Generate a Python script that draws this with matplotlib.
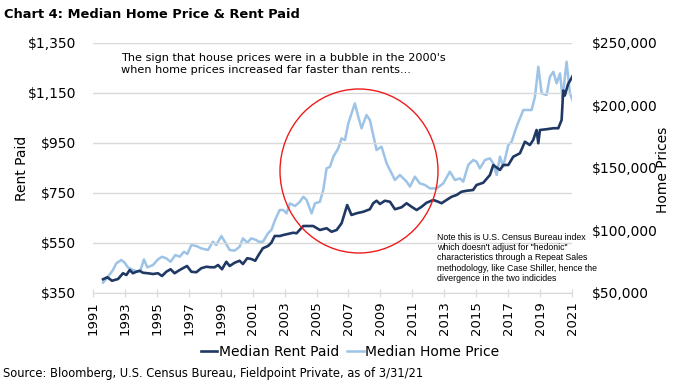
import matplotlib
matplotlib.use("Agg")
import matplotlib.pyplot as plt
from matplotlib.patches import Ellipse
from matplotlib.ticker import FuncFormatter

# ---- data ----
rent_years = [1991.63, 1991.90, 1992.19, 1992.57, 1992.88, 1993.09, 1993.30, 1993.50, 1993.71, 1993.92,
              1994.13, 1994.44, 1994.76, 1995.07, 1995.32, 1995.59, 1995.86, 1996.11, 1996.43, 1996.74,
              1996.89, 1997.16, 1997.47, 1997.78, 1998.10, 1998.37, 1998.62, 1998.83, 1999.08, 1999.35,
              1999.56, 1999.87, 2000.18, 2000.39, 2000.66, 2000.91, 2001.16, 2001.37, 2001.64, 2001.96,
              2002.17, 2002.38, 2002.71, 2002.92, 2003.54, 2003.75, 2004.17, 2004.79, 2005.21, 2005.63,
              2005.94, 2006.26, 2006.57, 2006.92, 2007.19, 2007.51, 2007.93, 2008.34, 2008.55, 2008.76,
              2008.97, 2009.28, 2009.60, 2009.91, 2010.33, 2010.64, 2010.95, 2011.27, 2011.58, 2011.89,
              2012.31, 2012.62, 2012.83, 2013.14, 2013.46, 2013.77, 2014.08, 2014.40, 2014.81, 2015.02,
              2015.44, 2015.86, 2016.07, 2016.49, 2016.69, 2017.01, 2017.32, 2017.74, 2018.05, 2018.36,
              2018.57, 2018.78, 2018.89, 2018.99, 2019.40, 2019.83, 2020.14, 2020.35, 2020.45, 2020.55,
              2020.75, 2021.14]
rent_vals = [405, 413, 399, 406, 429, 422, 442, 429, 435, 439,
             431, 429, 426, 429, 418, 435, 445, 429, 442, 453,
             458, 435, 433, 449, 455, 453, 453, 462, 445, 475,
             458, 471, 479, 466, 489, 486, 479, 502, 529, 538,
             551, 578, 578, 582, 591, 589, 618, 618, 602, 609,
             595, 602, 629, 702, 662, 669, 675, 685, 709, 719,
             706, 719, 715, 685, 693, 709, 695, 682, 695, 711,
             722, 715, 709, 722, 735, 742, 755, 759, 762, 782,
             791, 822, 862, 842, 862, 862, 895, 909, 955, 942,
             962, 1002, 949, 1002, 1005, 1009, 1009, 1042, 1160, 1140,
             1185, 1229]

home_years = [1991.63, 1991.94, 1992.25, 1992.46, 1992.77, 1992.98, 1993.19, 1993.50, 1993.82, 1993.98,
              1994.19, 1994.40, 1994.76, 1995.07, 1995.32, 1995.59, 1995.86, 1996.16, 1996.43, 1996.70,
              1996.91, 1997.16, 1997.47, 1997.78, 1998.20, 1998.51, 1998.72, 1999.04, 1999.29, 1999.56,
              1999.87, 2000.18, 2000.39, 2000.66, 2000.91, 2001.23, 2001.37, 2001.64, 2001.96, 2002.17,
              2002.42, 2002.69, 2002.92, 2003.12, 2003.33, 2003.65, 2003.96, 2004.17, 2004.38, 2004.69,
              2004.90, 2005.21, 2005.42, 2005.63, 2005.84, 2006.05, 2006.36, 2006.57, 2006.78, 2006.99,
              2007.40, 2007.61, 2007.82, 2008.13, 2008.34, 2008.76, 2009.07, 2009.39, 2009.70, 2009.91,
              2010.22, 2010.64, 2010.85, 2011.16, 2011.47, 2011.79, 2012.10, 2012.52, 2012.94, 2013.35,
              2013.67, 2013.98, 2014.19, 2014.50, 2014.81, 2015.02, 2015.23, 2015.55, 2015.86, 2016.07,
              2016.28, 2016.49, 2016.69, 2017.01, 2017.22, 2017.53, 2017.95, 2018.47, 2018.68, 2018.89,
              2019.10, 2019.41, 2019.62, 2019.83, 2020.04, 2020.25, 2020.41, 2020.66, 2020.87, 2021.14]
home_vals = [58300, 63000, 68400, 73700, 76400, 74300, 70500, 68400, 67000, 68400,
             76900, 70500, 72400, 76900, 79000, 77700, 75000, 80400, 79000, 83000,
             81200, 88400, 87600, 85700, 84400, 91000, 88400, 95600, 90300, 84400,
             83900, 87000, 93700, 90300, 93700, 92400, 91000, 91000, 97700, 100400,
             109000, 116400, 116400, 113700, 121700, 119600, 123000, 127000, 124400, 113700,
             121700, 123000, 132400, 149700, 151000, 159000, 165700, 173700, 172400, 185700,
             201700, 191100, 181700, 192400, 188400, 164400, 167100, 153700, 145700, 140400,
             144400, 139100, 135100, 143100, 137700, 136400, 133700, 133700, 137700, 147100,
             140400, 141700, 139100, 152400, 156400, 155100, 149700, 156400, 157700, 153700,
             144400, 159100, 151100, 168400, 171100, 183100, 196400, 196400, 207000, 231000,
             209700, 208400, 223000, 227000, 217700, 225700, 205700, 235000, 209700, 200400]

year_ticks = list(range(1991, 2022, 2))
rent_ticks = [350, 550, 750, 950, 1150, 1350]
home_ticks = [50000, 100000, 150000, 200000, 250000]

title = "Chart 4: Median Home Price & Rent Paid"
note_bubble = ("The sign that house prices were in a bubble in the 2000's\n"
               "when home prices increased far faster than rents...")
note_census = ("Note this is U.S. Census Bureau index\n"
               "which doesn't adjust for \"hedonic\"\n"
               "characteristics through a Repeat Sales\n"
               "methodology, like Case Shiller, hence the\n"
               "divergence in the two indicides")
source = "Source: Bloomberg, U.S. Census Bureau, Fieldpoint Private, as of 3/31/21"

DARK = "#1f3864"
LIGHT = "#9dc3e6"
GRID = "#d9d9d9"

plt.rcParams['font.family'] = ['DejaVu Sans']

W, H = 683, 382
fig = plt.figure(figsize=(W / 100, H / 100), dpi=100)
ax = fig.add_axes([93 / W, 1 - 293 / H, (572 - 93) / W, (293 - 43) / H])
ax2 = ax.twinx()

l1, = ax.plot(rent_years, rent_vals, color=DARK, lw=1.9, label="Median Rent Paid", zorder=3)
l2, = ax2.plot(home_years, home_vals, color=LIGHT, lw=1.8, label="Median Home Price", zorder=2)
ax.set_zorder(ax2.get_zorder() + 1)
ax.patch.set_visible(False)

ax.set_xlim(1991, 2021)
ax.set_ylim(350, 1350)
ax2.set_ylim(50000, 250000)
ax.set_xticks(year_ticks)
ax.set_xticklabels([str(y) for y in year_ticks], rotation=90, fontsize=9.5)
ax.set_yticks(rent_ticks)
ax.yaxis.set_major_formatter(FuncFormatter(lambda v, p: f"${v:,.0f}"))
ax2.set_yticks(home_ticks)
ax2.yaxis.set_major_formatter(FuncFormatter(lambda v, p: f"${v:,.0f}"))
ax.tick_params(axis='y', length=0, labelsize=10, pad=12)
ax2.tick_params(axis='y', length=0, labelsize=10, pad=14)
ax.tick_params(axis='x', direction='inout', length=6, color=GRID, pad=3)
ax.grid(axis='y', color=GRID, lw=1)
for a in (ax, ax2):
    for s in ('top', 'left', 'right'):
        a.spines[s].set_visible(False)
    a.spines['bottom'].set_color(GRID)
ax2.spines['bottom'].set_visible(False)

fig.text(4 / W, 1 - 14 / H, title, fontsize=9.4, fontweight='bold', va='center', ha='left')
fig.text(22 / W, 1 - 168 / H, "Rent Paid", rotation=90, fontsize=10, ha='center', va='center')
fig.text(663 / W, 1 - 170 / H, "Home Prices", rotation=90, fontsize=10, ha='center', va='center')
fig.text(121 / W, 1 - 53 / H, note_bubble, fontsize=8.1, va='top', ha='left', linespacing=1.3)
fig.text(437 / W, 1 - 233 / H, note_census, fontsize=6.35, va='top', ha='left', linespacing=1.17,
         family=['Liberation Sans', 'DejaVu Sans'])
fig.text(3 / W, 1 - 373 / H, source, fontsize=8.3, va='center', ha='left')

circ = Ellipse((359 / W, 1 - 171 / H), 158 / W, 164 / H, transform=fig.transFigure,
               fill=False, edgecolor='#ee1c1c', lw=1.0, zorder=10)
fig.patches.append(circ)

fig.legend(handles=[l1, l2], loc='center', bbox_to_anchor=(350 / W, 1 - 352 / H), ncol=2,
           frameon=False, fontsize=10, handlelength=1.2, handletextpad=0.1, columnspacing=0.6)

fig.savefig("out.png", dpi=100)
